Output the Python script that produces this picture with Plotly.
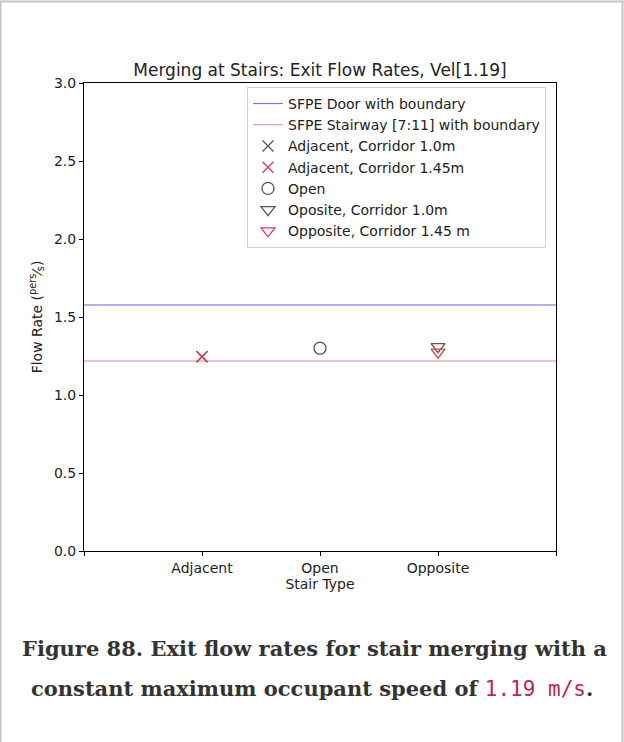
import plotly.graph_objects as go

# ---- data ----
stair_types = ["Adjacent", "Open", "Opposite"]
x_tick_vals = [1, 2, 3]
x_tick_text = ["Adjacent", "Open", "Opposite"]
x_minor_ticks = [0, 4]
y_tick_vals = [0.0, 0.5, 1.0, 1.5, 2.0, 2.5, 3.0]
y_tick_text = ["0.0", "0.5", "1.0", "1.5", "2.0", "2.5", "3.0"]

sfpe_door = 1.577
sfpe_stair = 1.218
line_x = [0, 4]

adjacent_x = [1]
adjacent_10 = [1.245]
adjacent_145 = [1.245]
open_x = [2]
open_vals = [1.30]
opposite_x = [3]
opposite_10 = [1.31]
opposite_145 = [1.275]

W, H = 624, 742
L, R, T, B = 84, 556, 83, 551
pw, ph = R - L, B - T


def px(xp):
    return (xp - L) / pw


def py(yp):
    return (B - yp) / ph


FONT = "DejaVu Sans"
GREY = "#555555"
RED = "#e8384f"
TXT = "#222222"

fig = go.Figure()
fig.add_trace(go.Scatter(x=line_x, y=[sfpe_door] * 2, mode="lines",
                         line=dict(color="rgba(70,70,230,0.85)", width=1),
                         name="SFPE Door with boundary"))
fig.add_trace(go.Scatter(x=line_x, y=[sfpe_stair] * 2, mode="lines",
                         line=dict(color="rgba(225,110,120,0.85)", width=1),
                         name="SFPE Stairway [7:11] with boundary"))
fig.add_trace(go.Scatter(x=adjacent_x, y=adjacent_10, mode="markers",
                         marker=dict(symbol="x-thin-open", size=11, color=GREY,
                                     line=dict(width=1.3, color=GREY)),
                         name="Adjacent, Corridor 1.0m"))
fig.add_trace(go.Scatter(x=adjacent_x, y=adjacent_145, mode="markers",
                         marker=dict(symbol="x-thin-open", size=11, color=RED,
                                     line=dict(width=1.3, color=RED)),
                         name="Adjacent, Corridor 1.45m"))
fig.add_trace(go.Scatter(x=open_x, y=open_vals, mode="markers",
                         marker=dict(symbol="circle-open", size=12, color=GREY,
                                     line=dict(width=1.3, color=GREY)),
                         name="Open"))
fig.add_trace(go.Scatter(x=opposite_x, y=opposite_10, mode="markers",
                         marker=dict(symbol="triangle-down-open", size=12, color=GREY,
                                     line=dict(width=1.3, color=GREY)),
                         name="Oposite, Corridor 1.0m"))
fig.add_trace(go.Scatter(x=opposite_x, y=opposite_145, mode="markers",
                         marker=dict(symbol="triangle-down-open", size=12, color=RED,
                                     line=dict(width=1.3, color=RED)),
                         name="Opposite, Corridor 1.45 m"))

axis_common = dict(showline=True, linecolor="black", linewidth=1, mirror=True,
                   ticks="outside", ticklen=4, tickcolor="black", showgrid=False,
                   zeroline=False, tickfont=dict(family=FONT, size=14, color=TXT))

fig.update_xaxes(range=[0, 4], tickmode="array", tickvals=x_tick_vals,
                 ticktext=x_tick_text,
                 minor=dict(tickmode="array", tickvals=x_minor_ticks, ticks="outside",
                            ticklen=4, tickcolor="black", showgrid=False),
                 title=dict(text="Stair Type", font=dict(family=FONT, size=14, color=TXT),
                            standoff=2),
                 **axis_common)
fig.update_yaxes(range=[0, 3], tickmode="array", tickvals=y_tick_vals,
                 ticktext=y_tick_text,
                 title=dict(text="Flow Rate (<sup>pers</sup>⁄<sub>s</sub>)",
                            font=dict(family=FONT, size=14, color=TXT), standoff=8),
                 **axis_common)

shapes = [
    dict(type="line", xref="paper", yref="paper", x0=px(0.5), x1=px(0.5),
         y0=py(742), y1=py(1), line=dict(color="#c4c4c4", width=2)),
    dict(type="line", xref="paper", yref="paper", x0=px(0), x1=px(624),
         y0=py(1.5), y1=py(1.5), line=dict(color="#c4c4c4", width=2)),
    dict(type="line", xref="paper", yref="paper", x0=px(622.5), x1=px(622.5),
         y0=py(742), y1=py(1), line=dict(color="#c4c4c4", width=2)),
]

cap_font = dict(family="DejaVu Serif", size=21, color="#333333")
mono = "<span style='font-family:DejaVu Sans Mono;font-weight:normal;color:#c0264f'>1.19 m/s</span>"
annotations = [
    dict(xref="paper", yref="paper", x=px(314), y=py(648), xanchor="center",
         yanchor="middle", showarrow=False,
         text="<b>Figure 88. Exit flow rates for stair merging with a</b>", font=cap_font),
    dict(xref="paper", yref="paper", x=px(312), y=py(688), xanchor="center",
         yanchor="middle", showarrow=False,
         text="<b>constant maximum occupant speed of </b>" + mono + "<b>.</b>", font=cap_font),
]

fig.update_layout(
    width=W, height=H,
    margin=dict(l=L, r=W - R, t=T, b=H - B, pad=0),
    paper_bgcolor="white", plot_bgcolor="white",
    title=dict(text="Merging at Stairs: Exit Flow Rates, Vel[1.19]",
               font=dict(family=FONT, size=17, color=TXT),
               x=px(320), xref="paper", xanchor="center",
               y=1 - 70 / H, yref="container", yanchor="middle"),
    legend=dict(x=px(247), y=py(87), xanchor="left", yanchor="top",
                bgcolor="rgba(255,255,255,0.85)", bordercolor="#d0d0d0", borderwidth=1,
                font=dict(family=FONT, size=14, color=TXT), tracegroupgap=0,
                itemwidth=30),
    shapes=shapes, annotations=annotations, showlegend=True,
)

fig.write_html("out.html", config={"displayModeBar": False},
               post_script="document.body.style.margin='0';")
